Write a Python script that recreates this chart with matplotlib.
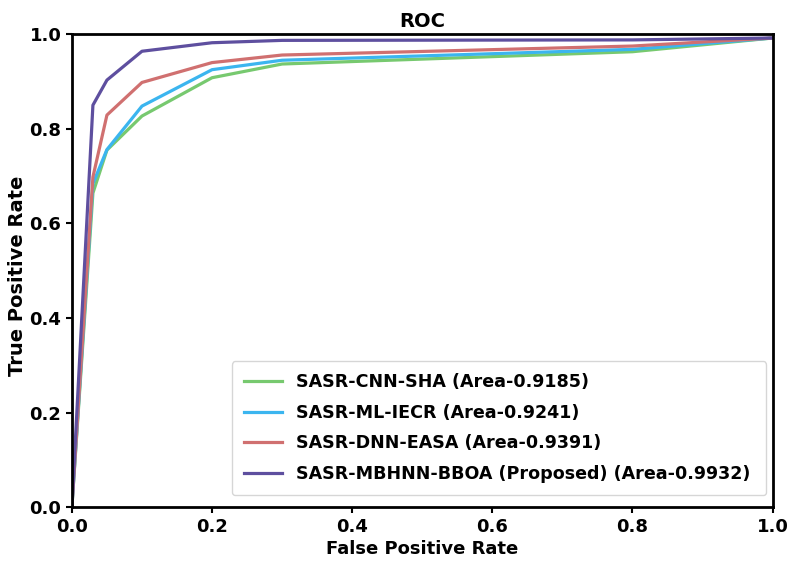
import matplotlib
matplotlib.use('Agg')
import matplotlib.pyplot as plt

# ROC points
fpr = [0.0, 0.03, 0.05, 0.1, 0.2, 0.3, 0.8, 1.0]
tpr_cnn = [0.0, 0.664, 0.755, 0.827, 0.908, 0.937, 0.963, 0.992]
tpr_ml = [0.0, 0.684, 0.756, 0.848, 0.925, 0.945, 0.968, 0.992]
tpr_dnn = [0.0, 0.698, 0.829, 0.898, 0.940, 0.956, 0.975, 0.992]
tpr_prop = [0.0, 0.850, 0.903, 0.964, 0.982, 0.987, 0.988, 0.992]

labels = [
    'SASR-CNN-SHA (Area-0.9185)',
    'SASR-ML-IECR (Area-0.9241)',
    'SASR-DNN-EASA (Area-0.9391)',
    'SASR-MBHNN-BBOA (Proposed) (Area-0.9932)',
]
colors = ['#77c96f', '#3bb5ef', '#d07070', '#5e4f9f']

fig = plt.figure(figsize=(7.9, 5.61), dpi=100)
ax = fig.add_axes([0.091, 0.096, 0.887, 0.843])

for tpr, lab, c in zip([tpr_cnn, tpr_ml, tpr_dnn, tpr_prop], labels, colors):
    ax.plot(fpr, tpr, color=c, lw=2.3, label=lab)

ax.set_xlim(0, 1)
ax.set_ylim(0, 1)
ax.set_title('ROC', fontsize=14, fontweight='bold', pad=5)
ax.set_xlabel('False Positive Rate', fontsize=13, fontweight='bold', labelpad=3)
ax.set_ylabel('True Positive Rate', fontsize=14, fontweight='bold')
ax.yaxis.set_label_coords(-0.064, 0.49)
ax.set_xticks([0, 0.2, 0.4, 0.6, 0.8, 1.0])
ax.set_yticks([0, 0.2, 0.4, 0.6, 0.8, 1.0])
for t in ax.get_xticklabels() + ax.get_yticklabels():
    t.set_fontsize(13)
    t.set_fontweight('bold')
ax.tick_params(width=1.5, length=4)
for s in ax.spines.values():
    s.set_linewidth(2)

leg = ax.legend(loc='lower left', bbox_to_anchor=(0.228, 0.025, 0.763, 0.28),
                mode='expand', borderaxespad=0,
                prop={'size': 12.6, 'weight': 'bold'},
                handlelength=2.2, handletextpad=0.75, labelspacing=0.72,
                borderpad=0.7)

plt.savefig('out.png', dpi=100)
